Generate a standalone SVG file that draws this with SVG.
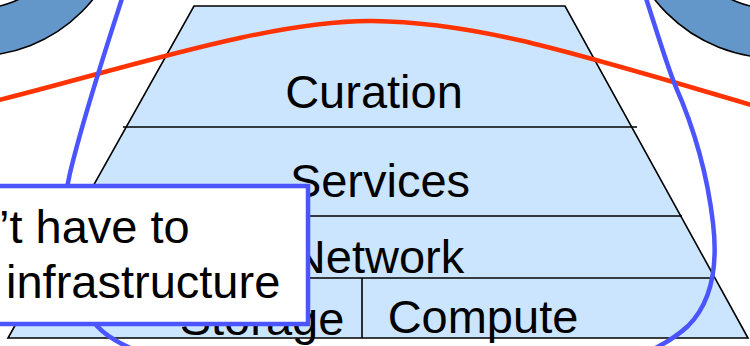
<svg xmlns="http://www.w3.org/2000/svg" width="750" height="346" viewBox="0 0 750 346">
  <style>
    .lbl { font-family: "Liberation Sans", Arial, sans-serif; font-size: 47px; fill: #000; }
    .edge { stroke: #000; stroke-width: 1.6; fill: none; }
    .ring { fill: #6497c9; stroke: #000; stroke-width: 1.6; fill-rule: evenodd; }
  </style>
  <rect width="750" height="346" fill="#fff"/>

  <g id="ring-left">
    <path class="ring" d="M -176,-95 a 151,151 0 1,0 302,0 a 151,151 0 1,0 -302,0 Z M -129,-95 a 104,104 0 1,0 208,0 a 104,104 0 1,0 -208,0 Z"/>
  </g>
  <g id="ring-right">
    <path class="ring" d="M 622,-95 a 153,153 0 1,0 306,0 a 153,153 0 1,0 -306,0 Z M 671,-95 a 104,104 0 1,0 208,0 a 104,104 0 1,0 -208,0 Z"/>
  </g>

  <g id="pyramid">
    <polygon points="194,6 565,6 748,338 8,338" fill="#cce5ff" stroke="#000" stroke-width="1.6"/>
    <line class="edge" x1="123" y1="127" x2="637" y2="127"/>
    <line class="edge" x1="76" y1="216" x2="682" y2="216"/>
    <line class="edge" x1="42" y1="278" x2="714" y2="278"/>
    <line class="edge" x1="362" y1="278" x2="362" y2="338"/>
  </g>

  <g id="curation">
    <text class="lbl" x="374" y="108" text-anchor="middle">Curation</text>
  </g>
  <g id="services">
    <text class="lbl" x="380" y="197" text-anchor="middle">Services</text>
  </g>
  <g id="network">
    <text class="lbl" x="378" y="273" text-anchor="middle">Network</text>
  </g>
  <g id="storage">
    <text class="lbl" x="262" y="335" text-anchor="middle">Storage</text>
  </g>
  <g id="compute">
    <text class="lbl" x="483" y="333" text-anchor="middle">Compute</text>
  </g>

  <g id="curves">
    <path d="M -5,101 C 120,70 270,20 372,21 C 480,22 580,55 755,106" fill="none" stroke="#ff3300" stroke-width="4.5"/>
    <path d="M 128,-20 C 112,30 85,110 70,173 C 60,215 65,290 97,326 C 129,362 260,392 400,390 C 540,388 640,370 688,326 C 712,302 718,265 713,223 C 708,180 695,130 675,85 C 665,60 655,25 640,-20 Z" fill="none" stroke="#4a55ff" stroke-width="4.5"/>
  </g>

  <g id="callout">
    <rect x="-20" y="186" width="328" height="138" fill="#fff" stroke="#4a55ff" stroke-width="4.5"/>
    <text class="lbl" x="-1" y="243">’t have to</text>
    <text class="lbl" x="6" y="298">infrastructure</text>
  </g>
</svg>
